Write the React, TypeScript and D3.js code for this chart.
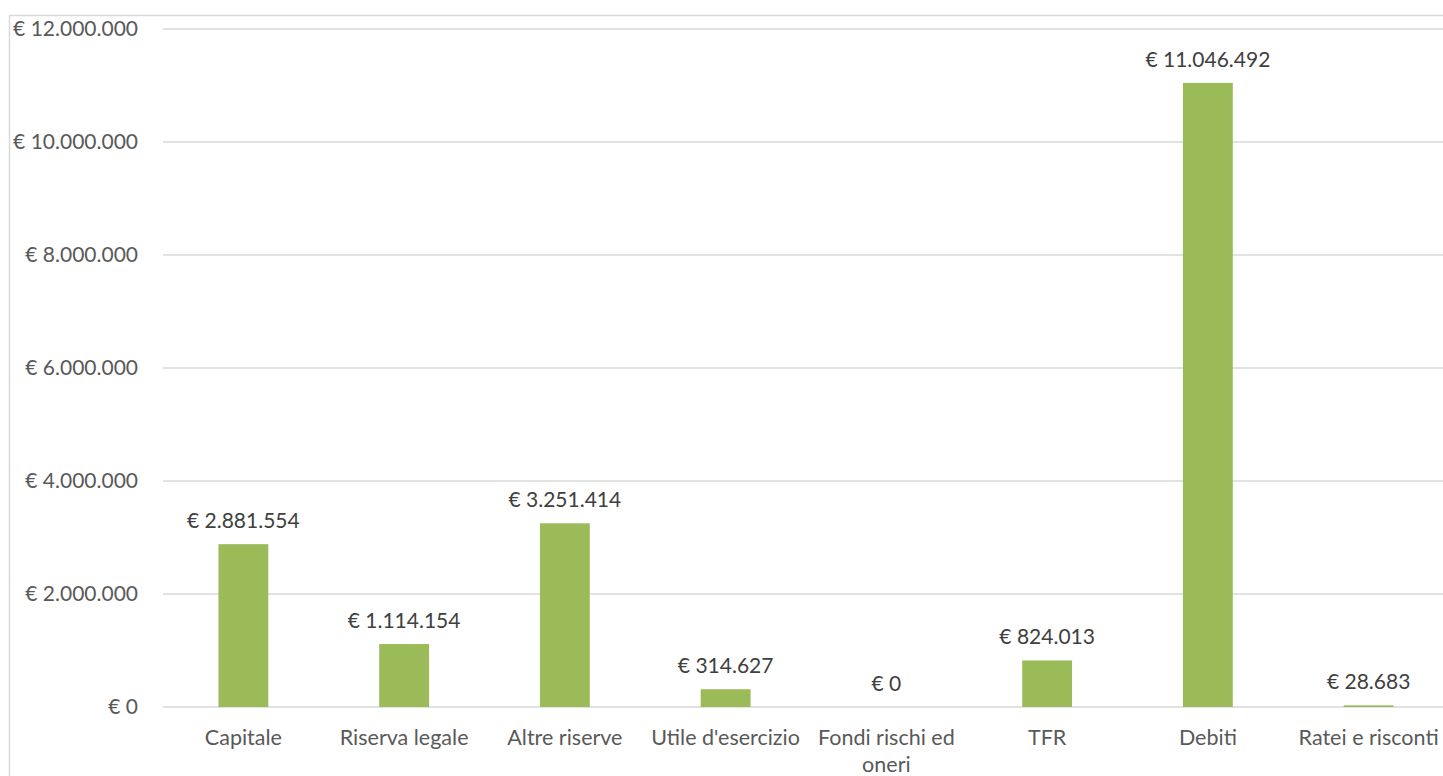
import { useRef, useEffect } from 'react';
import * as d3 from 'd3';

const categories = [
  'Capitale',
  'Riserva legale',
  'Altre riserve',
  "Utile d'esercizio",
  'Fondi rischi ed oneri',
  'TFR',
  'Debiti',
  'Ratei e risconti',
];
const values = [2881554, 1114154, 3251414, 314627, 0, 824013, 11046492, 28683];
const yTicks = [0, 2000000, 4000000, 6000000, 8000000, 10000000, 12000000];

const width = 1443;
const height = 776;
const margin = { top: 29, right: -6, bottom: 69, left: 163 };

const fmt = (v: number) => '€ ' + d3.format(',')(v).replace(/,/g, '.');

export default function App() {
  const ref = useRef<SVGSVGElement>(null);

  useEffect(() => {
    if (!ref.current) return;
    const svg = d3.select(ref.current);
    svg.selectAll('*').remove();

    const innerWidth = width - margin.left - margin.right;
    const innerHeight = height - margin.top - margin.bottom;
    const font = 'Lato, "Open Sans", sans-serif';

    const x = d3.scaleBand().domain(categories).range([0, innerWidth]).paddingInner(0.69).paddingOuter(0.345);
    const y = d3.scaleLinear().domain([0, 12000000]).range([innerHeight, 0]);

    svg.append('rect').attr('width', width).attr('height', height).attr('fill', '#fff');

    // chart border (cropped)
    svg
      .append('path')
      .attr('d', `M9.5,${height + 2} V15.5 H${width + 2}`)
      .attr('fill', 'none')
      .attr('stroke', '#d9d9d9')
      .attr('stroke-width', 1.5);

    const g = svg.append('g').attr('transform', `translate(${margin.left},${margin.top})`);

    // gridlines
    g.selectAll('line.grid')
      .data(yTicks)
      .enter()
      .append('line')
      .attr('x1', 0)
      .attr('x2', innerWidth)
      .attr('y1', (d) => y(d))
      .attr('y2', (d) => y(d))
      .attr('stroke', '#d9d9d9')
      .attr('stroke-width', 1.5);

    // y labels
    g.selectAll('text.ytick')
      .data(yTicks)
      .enter()
      .append('text')
      .attr('x', -25)
      .attr('y', (d) => y(d))
      .attr('dy', '0.35em')
      .attr('text-anchor', 'end')
      .attr('font-family', font)
      .attr('font-size', 21)
      .attr('fill', '#595959')
      .text(fmt);

    // bars
    g.selectAll('rect.bar')
      .data(values)
      .enter()
      .append('rect')
      .attr('x', (_, i) => x(categories[i])!)
      .attr('y', (d) => y(d))
      .attr('width', x.bandwidth())
      .attr('height', (d) => innerHeight - y(d))
      .attr('fill', '#9bbb59');

    // data labels
    g.selectAll('text.val')
      .data(values)
      .enter()
      .append('text')
      .attr('x', (_, i) => x(categories[i])! + x.bandwidth() / 2)
      .attr('y', (d) => y(d) - 16)
      .attr('text-anchor', 'middle')
      .attr('font-family', font)
      .attr('font-size', 21)
      .attr('fill', '#404040')
      .text(fmt);

    // category labels
    const catLines: Record<string, string[]> = { 'Fondi rischi ed oneri': ['Fondi rischi ed', 'oneri'] };
    categories.forEach((c) => {
      const lines = catLines[c] || [c];
      const t = g
        .append('text')
        .attr('x', x(c)! + x.bandwidth() / 2)
        .attr('y', innerHeight + 38)
        .attr('text-anchor', 'middle')
        .attr('font-family', font)
        .attr('font-size', 21.5)
        .attr('fill', '#595959');
      lines.forEach((l, i) => {
        t.append('tspan')
          .attr('x', x(c)! + x.bandwidth() / 2)
          .attr('dy', i === 0 ? 0 : 27)
          .text(l);
      });
    });
  }, []);

  return (
    <svg
      ref={ref}
      width={width}
      height={height}
      style={{ position: 'absolute', left: 0, top: 0 }}
    />
  );
}
